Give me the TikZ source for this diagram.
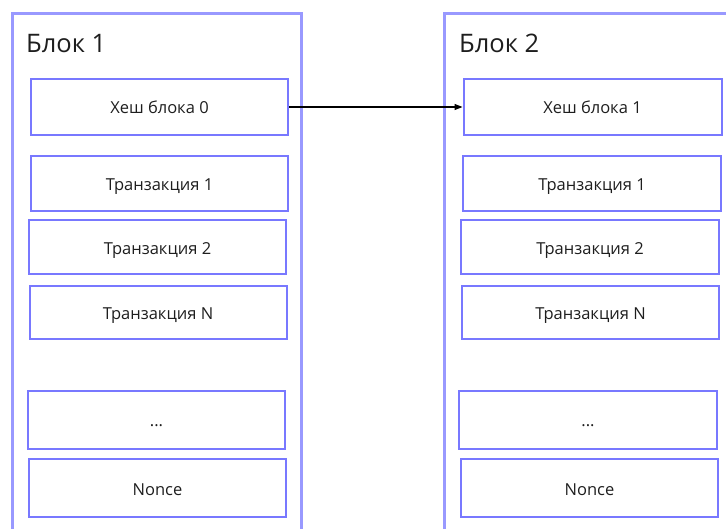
\documentclass[tikz,border=0pt]{standalone}
\usepackage{fontspec}
\setmainfont{Open Sans}
\usetikzlibrary{arrows.meta}
\definecolor{frameblue}{RGB}{153,153,255}
\definecolor{cellblue}{RGB}{120,120,255}
\definecolor{inkgray}{RGB}{30,30,30}
\tikzset{
  frame/.style={draw=frameblue, line width=3pt},
  cell/.style={draw=cellblue, line width=2pt, minimum width=257pt,
    minimum height=55pt, inner sep=0pt, text height=14pt, text depth=0pt,
    text=inkgray, font=\fontsize{16.5}{18}\selectfont},
  title/.style={anchor=base west, inner sep=0pt, text=inkgray, font=\fontsize{25.5}{28}\selectfont}
}
\begin{document}
\begin{tikzpicture}[x=1pt,y=-1pt]
      \useasboundingbox (0,0) rectangle (726,529);
      \clip (0,0) rectangle (726,529);
      % the two blocks
      \draw[frame] (12.5,14) rectangle (301.5,545);
      \draw[frame] (444.5,14) rectangle (760,545);
      \draw
        (26,53) node[title] (b1){Блок 1}
        (459,53) node[title] (b2){Блок 2};
      \draw
        (159.5,107) node[cell, minimum height=56pt] (h0){Хеш блока 0}
        (159.5,183.5) node[cell] (t11){Транзакция 1}
        (157.5,247.5) node[cell, minimum height=54pt] (t12){Транзакция 2}
        (158,312.5) node[cell, minimum height=53pt] (t1n){Транзакция N}
        (156.5,420) node[cell, minimum height=58pt] (d1){...}
        (157.5,488) node[cell, minimum height=58pt] (n1){Nonce};
      \draw
        (592.5,107) node[cell, minimum width=258pt, minimum height=56pt] (h1){Хеш блока 1}
        (592,183.5) node[cell, minimum width=258pt] (t21){Транзакция 1}
        (590,247.5) node[cell, minimum width=258pt, minimum height=54pt] (t22){Транзакция 2}
        (590.5,312.5) node[cell, minimum height=53pt] (t2n){Транзакция N}
        (588,420) node[cell, minimum width=258pt, minimum height=58pt] (d2){...}
        (589.5,488) node[cell, minimum height=58pt] (n2){Nonce};
      \begin{scope}[-{Triangle[length=8pt,width=6pt]}, line width=1.1pt]
        \draw (h0) to (h1);
      \end{scope}
    \end{tikzpicture}
\end{document}
